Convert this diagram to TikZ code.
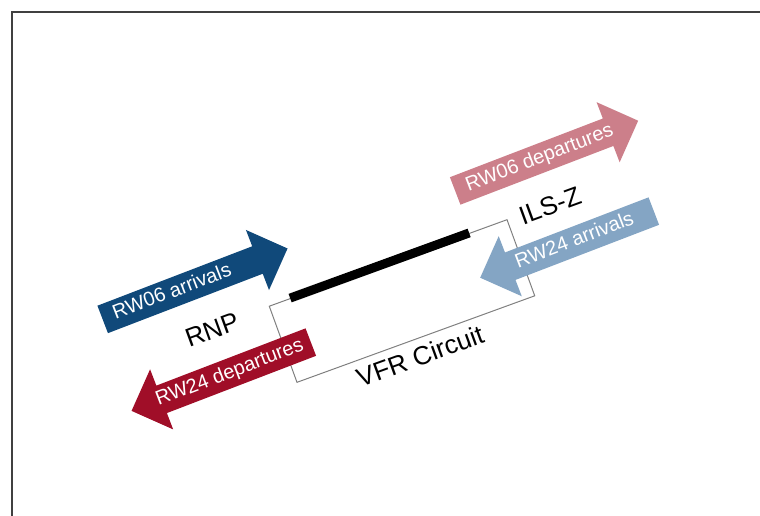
\documentclass[tikz,border=0pt]{standalone}
\usepackage{fontspec}
\setmainfont{Liberation Sans}
\usetikzlibrary{shapes.arrows,calc}
\definecolor{arrblue}{RGB}{16,73,122}
\definecolor{depred}{RGB}{160,14,40}
\definecolor{deppink}{RGB}{204,127,138}
\definecolor{arrlight}{RGB}{132,165,196}
\tikzset{
  flow/.style={single arrow, single arrow head extend=17.5pt, single arrow tip angle=90,
    inner xsep=0pt, inner ysep=5.5pt, text height=14pt, text depth=4pt,
    minimum height=#1, rotate=21, anchor=tail, text=white,
    font=\fontsize{20}{22}\selectfont},
  fwd/.style={execute at begin node={\kern-#1}},
  back/.style={shape border rotate=180, execute at end node={\kern-#1}},
  lbl/.style={rotate=20, font=\fontsize{26}{30}\selectfont}
}

\begin{document}
\begin{tikzpicture}[x=1pt,y=-1pt]
    \useasboundingbox (0,0) rectangle (760,515);
    \draw[line width=2pt, black!75] (12,520) -- (12,12) -- (765,12);
    \node[draw=black!50, line width=1pt, rotate=20, minimum width=253pt, minimum height=81pt, inner sep=0pt] (circ) at (402,301) {};
    \draw[line width=9pt] ($(circ.north west)!0.09!(circ.north east)$) -- ($(circ.north west)!0.84!(circ.north east)$);
    \node[lbl] (rnp) at (212,330) {RNP};
    \node[lbl] (ils) at (550,206) {ILS-Z};
    \node[lbl] (vfr) at (420,356) {VFR Circuit};
    \node[flow=198pt, fwd=34pt, fill=arrblue] (arr06) at (102.5,319.5) {RW06 arrivals};
    \node[flow=192pt, back=4pt, fill=depred] (dep24) at (311,342) {RW24 departures};
    \node[flow=196pt, fwd=0pt, fill=deppink] (dep06) at (455,191) {RW06 departures};
    \node[flow=186pt, back=2pt, fill=arrlight] (arr24) at (654,211) {RW24 arrivals};
\end{tikzpicture}
\end{document}
